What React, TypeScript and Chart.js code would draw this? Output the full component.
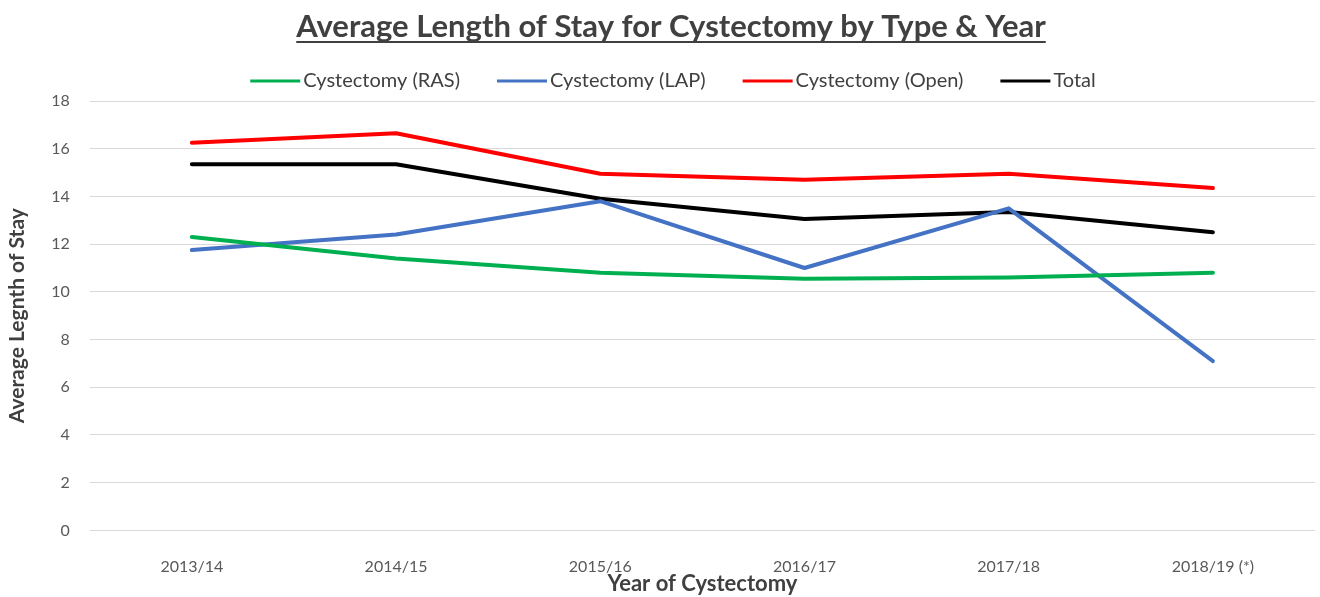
import React, { useEffect, useRef } from "react";
import { Chart, registerables } from "chart.js";

Chart.register(...registerables);

const chartTitle = "Average Length of Stay for Cystectomy by Type & Year";
const xAxisTitle = "Year of Cystectomy";
const yAxisTitle = "Average Legnth of Stay";

const years = ["2013/14", "2014/15", "2015/16", "2016/17", "2017/18", "2018/19 (*)"];
const rasValues = [12.3, 11.4, 10.8, 10.55, 10.6, 10.8];
const lapValues = [11.75, 12.4, 13.8, 11.0, 13.5, 7.1];
const openValues = [16.25, 16.65, 14.95, 14.7, 14.95, 14.35];
const totalValues = [15.35, 15.35, 13.9, 13.05, 13.35, 12.5];

const seriesNames = ["Cystectomy (RAS)", "Cystectomy (LAP)", "Cystectomy (Open)", "Total"];
const seriesColors = ["#00B050", "#4472C4", "#FF0000", "#000000"];
const seriesValues = [rasValues, lapValues, openValues, totalValues];

const yMin = 0;
const yMax = 18;
const yStep = 2;

const FONT = "Lato, 'Noto Sans', sans-serif";

const headerPlugin = {
  id: "headerPlugin",
  afterDraw(chart: any) {
    const ctx = chart.ctx as CanvasRenderingContext2D;
    ctx.save();
    // Title
    const tcx = 671;
    ctx.font = `bold 31px ${FONT}`;
    ctx.fillStyle = "#404040";
    ctx.textAlign = "center";
    ctx.textBaseline = "alphabetic";
    ctx.fillText(chartTitle, tcx, 37);
    const tw = ctx.measureText(chartTitle).width;
    ctx.fillRect(tcx - tw / 2, 41, tw, 2);

    // Legend
    const lcx = 673;
    ctx.font = `20px ${FONT}`;
    const lineLen = 50;
    const gapLineText = 3;
    const gapItems = 37;
    const widths = seriesNames.map((n) => ctx.measureText(n).width);
    const total =
      widths.reduce((a, b) => a + b, 0) +
      seriesNames.length * (lineLen + gapLineText) +
      (seriesNames.length - 1) * gapItems;
    let x = lcx - total / 2;
    const y = 81;
    ctx.textAlign = "left";
    ctx.textBaseline = "middle";
    seriesNames.forEach((name, i) => {
      ctx.strokeStyle = seriesColors[i];
      ctx.lineWidth = 3;
      ctx.beginPath();
      ctx.moveTo(x, y);
      ctx.lineTo(x + lineLen, y);
      ctx.stroke();
      x += lineLen + gapLineText;
      ctx.fillStyle = "#404040";
      ctx.fillText(name, x, y);
      x += widths[i] + gapItems;
    });
    ctx.restore();
  },
};

export default function App() {
  const canvasRef = useRef<HTMLCanvasElement | null>(null);

  useEffect(() => {
    if (!canvasRef.current) return;
    const chart = new Chart(canvasRef.current, {
      type: "line",
      data: {
        labels: years,
        datasets: seriesNames.map((name, i) => ({
          label: name,
          data: seriesValues[i],
          borderColor: seriesColors[i],
          backgroundColor: seriesColors[i],
          borderWidth: 4,
          pointRadius: 0,
          tension: 0,
          borderCapStyle: "round" as const,
          borderJoinStyle: "round" as const,
          fill: false,
        })),
      },
      options: {
        animation: false,
        responsive: false,
        maintainAspectRatio: false,
        layout: { padding: { top: 101, right: 5, bottom: 0, left: 5 } },
        plugins: {
          legend: { display: false },
          title: { display: false },
          tooltip: { enabled: false },
        },
        scales: {
          x: {
            offset: true,
            grid: { display: false, drawTicks: false },
            border: { display: false },
            ticks: {
              padding: 27,
              color: "#595959",
              font: { family: FONT, size: 16 },
              maxRotation: 0,
              autoSkip: false,
            },
            title: {
              display: true,
              text: xAxisTitle,
              color: "#404040",
              font: { family: FONT, size: 22, weight: "bold" },
              padding: { top: -33, bottom: 0 },
            },
          },
          y: {
            min: yMin,
            max: yMax,
            grid: { color: "#D9D9D9", lineWidth: 1, drawTicks: false },
            border: { display: false },
            ticks: {
              stepSize: yStep,
              padding: 20,
              color: "#595959",
              font: { family: FONT, size: 16 },
            },
            title: {
              display: true,
              text: yAxisTitle,
              color: "#404040",
              font: { family: FONT, size: 21, weight: "bold" },
              padding: { top: 0, bottom: 1 },
            },
          },
        },
      },
      plugins: [headerPlugin],
    });
    return () => chart.destroy();
  }, []);

  return (
    <div style={{ position: "fixed", left: 0, top: 0, width: 1320, height: 597, background: "#fff" }}>
      <canvas ref={canvasRef} width={1320} height={597} style={{ display: "block" }} />
    </div>
  );
}
